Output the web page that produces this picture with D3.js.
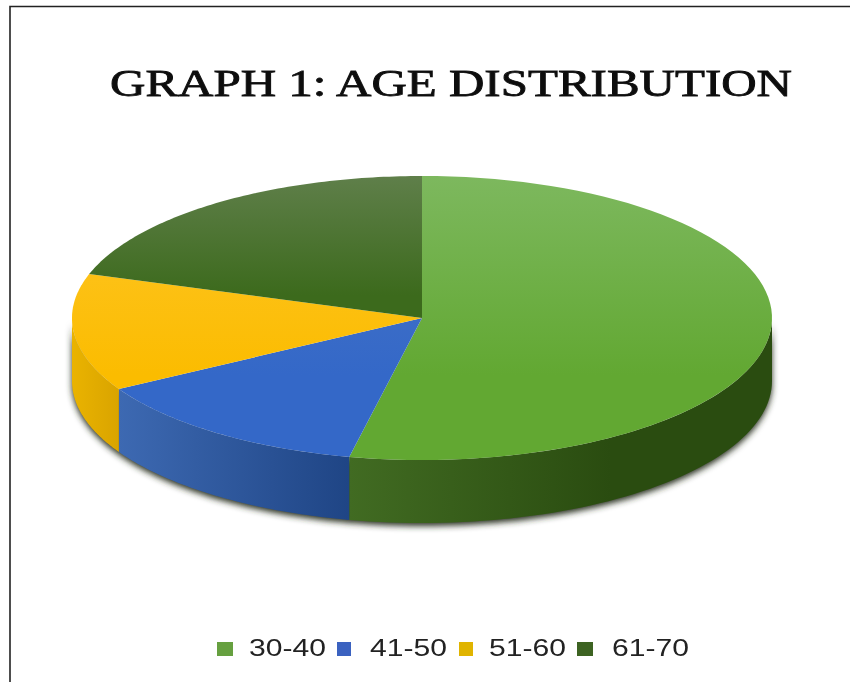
<!DOCTYPE html>
<html><head><meta charset="utf-8">
<script src="https://cdn.jsdelivr.net/npm/d3@7/dist/d3.min.js"></script>
<style>html,body{margin:0;padding:0;background:#fff}svg{display:block}</style>
</head><body><svg id="c" width="850" height="682"></svg>
<script>
const titleText = "GRAPH 1: AGE DISTRIBUTION";
const categories = ["30-40", "41-50", "51-60", "61-70"];
const values = [16, 4, 4, 6];
const legendColors = ["#66a040", "#3b62c0", "#e0b400", "#3d6324"];
const topColors = [["#7db85e", "#62a832"], ["#4a76c4", "#3468c8"], ["#ffc62a", "#fbbc00"], ["#5f7f4a", "#3c6a1c"]];
const wallColors = [["#416b22", "#2a4c10"], ["#3d69b2", "#1f4585"], ["#eab300", "#d9a400"], ["#3c6a1c", "#3c6a1c"]];

const svg = d3.select("#c");
const cx = 422, cy = 318, rx = 350, ry = 142, depth = 63;
const defs = svg.append("defs");
defs.append("filter").attr("id", "blur").attr("x", "-10%").attr("y", "-10%").attr("width", "120%").attr("height", "130%")
  .append("feGaussianBlur").attr("stdDeviation", 3);
defs.append("filter").attr("id", "soft").attr("x", "-5%").attr("y", "-20%").attr("width", "110%").attr("height", "140%")
  .append("feGaussianBlur").attr("stdDeviation", 0.45);

values.forEach((_, i) => {
  const g = defs.append("linearGradient").attr("id", "top" + i).attr("gradientUnits", "userSpaceOnUse")
    .attr("x1", 0).attr("x2", 0).attr("y1", cy - ry).attr("y2", cy + ry);
  g.append("stop").attr("offset", 0).attr("stop-color", topColors[i][0]);
  g.append("stop").attr("offset", i === 3 ? .42 : .7).attr("stop-color", topColors[i][1]);
});

const pie = d3.pie().value(d => d).sort(null);
const arcs = pie(values);
const px = a => cx + rx * Math.sin(a), py = a => cy - ry * Math.cos(a);

// frame
svg.append("path").attr("d", d3.line()([[10, 682], [10, 6.5], [850, 6.5]])).attr("fill", "none").attr("stroke", "#222").attr("stroke-width", 1.6);

// title
svg.append("text").text(titleText).attr("x", 110).attr("y", 96)
  .attr("textLength", 682).attr("lengthAdjust", "spacingAndGlyphs")
  .attr("font-family", "Liberation Serif").attr("font-size", 37).attr("fill", "#111")
  .attr("stroke", "#111").attr("stroke-width", .8).attr("filter", "url(#soft)");

// walls
const frontStart = Math.PI / 2, frontEnd = 3 * Math.PI / 2;
const wall = d3.area().x(a => px(a)).y0(a => py(a)).y1(a => py(a) + depth);
const wallAngles = d => {
  const a0 = Math.max(d.startAngle, frontStart), a1 = Math.min(d.endAngle, frontEnd);
  return a1 > a0 ? d3.range(0, 61).map(k => a0 + (a1 - a0) * k / 60) : null;
};
// soft shadow under the wall
svg.append("path").attr("d", wall(d3.range(0, 121).map(k => frontStart + Math.PI * k / 120)))
  .attr("transform", "translate(0,3)").attr("fill", "#2a3220").attr("filter", "url(#blur)");
arcs.forEach((d, i) => {
  const pts = wallAngles(d);
  if (!pts) return;
  const g = defs.append("linearGradient").attr("id", "wall" + i).attr("gradientUnits", "userSpaceOnUse")
    .attr("y1", 0).attr("y2", 0).attr("x1", px(pts[60])).attr("x2", i === 0 ? px(pts[0]) * .62 + px(pts[60]) * .38 : px(pts[0]));
  g.append("stop").attr("offset", 0).attr("stop-color", wallColors[i][0]);
  g.append("stop").attr("offset", 1).attr("stop-color", wallColors[i][1]);
  svg.append("path").attr("d", wall(pts)).attr("fill", `url(#wall${i})`);
});

// top face
const topPath = d => {
  const n = 80, p = d3.path();
  p.moveTo(cx, cy);
  for (let k = 0; k <= n; k++) { const a = d.startAngle + (d.endAngle - d.startAngle) * k / n; p.lineTo(px(a), py(a)); }
  p.closePath();
  return p.toString();
};
svg.append("g").selectAll("path").data(arcs).join("path").attr("d", topPath)
  .attr("fill", (d, i) => `url(#top${i})`);

// legend
const legendBoxX = [217, 337, 459, 577], legendBoxW = [16, 14, 14, 16];
const legendTextX = [249, 370, 489, 612];
const leg = svg.append("g");
categories.forEach((c, i) => {
  leg.append("rect").attr("x", legendBoxX[i]).attr("y", 642).attr("width", legendBoxW[i]).attr("height", 14).attr("fill", legendColors[i]).attr("filter", "url(#soft)");
  leg.append("text").text(c).attr("x", legendTextX[i]).attr("y", 656)
    .attr("textLength", 77).attr("lengthAdjust", "spacingAndGlyphs")
    .attr("font-family", "Liberation Sans").attr("font-size", 24).attr("fill", "#222").attr("filter", "url(#soft)");
});
</script></body></html>
